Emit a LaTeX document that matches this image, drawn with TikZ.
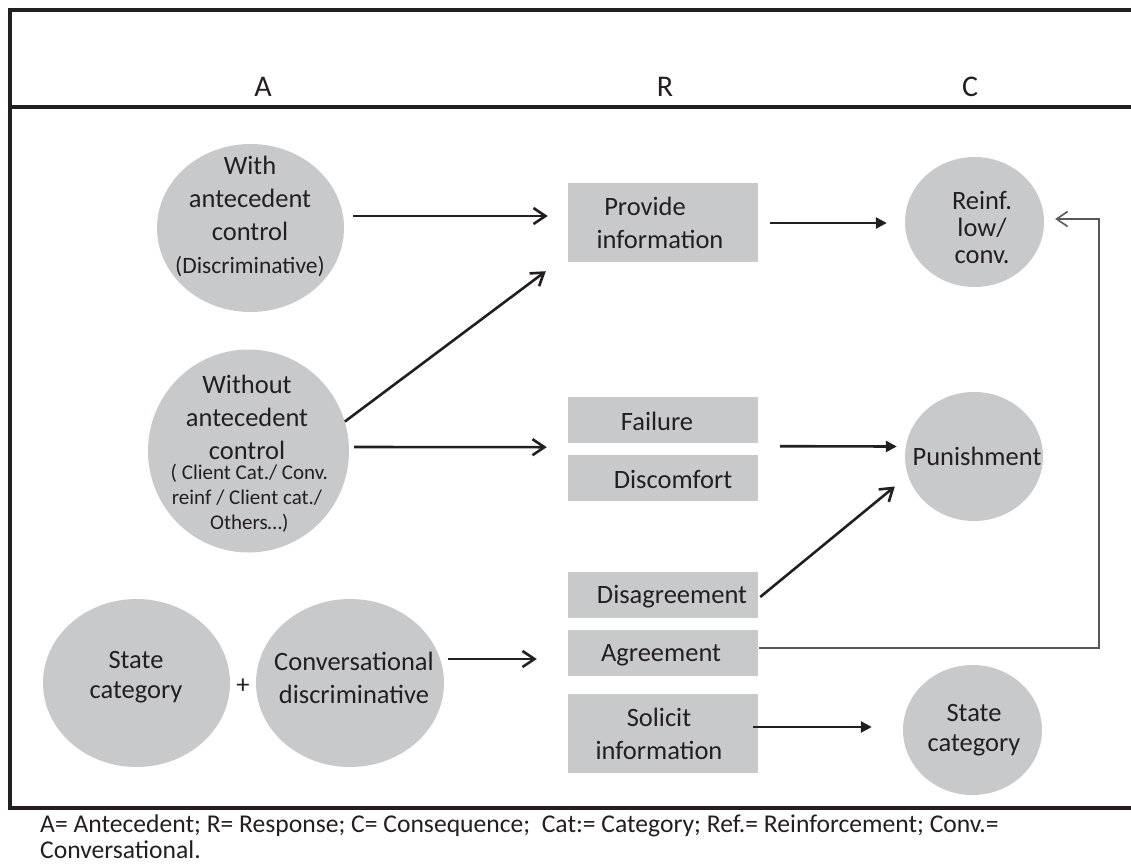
\documentclass[tikz,border=0pt]{standalone}
\usepackage{fontspec}
\setmainfont{Carlito}
\usetikzlibrary{arrows.meta,shapes.geometric,calc}
\definecolor{ink}{HTML}{231F20}
\definecolor{shade}{HTML}{C8C9CB}
\definecolor{wire}{HTML}{58585A}
% smaller lines inside the antecedent circles
\newcommand\wsmall{\fontsize{21}{25}\selectfont}

\begin{document}
\begin{tikzpicture}[x=1pt,y=-1pt,
  every node/.style={text=ink},
  disc/.style={ellipse, fill=shade, inner sep=0pt},
  bar/.style={rectangle, fill=shade, inner sep=0pt, minimum width=190pt},
  txt/.style={align=center, inner sep=0pt, font=\fontsize{26.5}{33}\selectfont},
  head/.style={inner sep=0pt, font=\fontsize{30}{36}\selectfont},
  frame/.style={draw=ink, line width=4pt},
  barb/.style={draw=ink, line width=2.6pt, -{Straight Barb[length=12pt,width=16pt]}},
  tri/.style={draw=ink, line width=2.6pt, -{Triangle[length=11pt,width=11pt]}},
  back/.style={draw=wire, line width=1.6pt, -{Straight Barb[length=11pt,width=15pt]}},
]
\useasboundingbox (0,0) rectangle (1131,865);

% table frame and column headings
\draw[frame] (1131,10) -- (10,10) -- (10,808) -- (1131,808);
\draw[frame] (10,107) -- (1131,107);
\node[head] (hA) at (263,87) {A};
\node[head] (hR) at (665,87) {R};
\node[head] (hC) at (970,87) {C};

% antecedents
\node[disc, minimum width=187pt, minimum height=168pt] (with) at (250.5,228) {};
\node[txt] (with-t) at (250,216) {With\\antecedent\\control\\\fontsize{23.5}{33}\selectfont(Discriminative)};
\node[disc, minimum width=201pt, minimum height=203pt] (without) at (248.5,451) {};
\node[txt] (without-t) at (247,453.5) {Without\\antecedent\\control\\[-13pt]\wsmall\ ( Client Cat./ Conv.\\[-8pt]\wsmall reinf / Client cat./\\[-8pt]\wsmall\ Others…)};
\node[disc, minimum width=187pt, minimum height=168pt] (statel) at (136.5,683) {};
\node[txt, font=\fontsize{26.5}{30}\selectfont] (statel-t) at (136,677) {State\\category};
\node[disc, minimum width=188pt, minimum height=168pt] (conv) at (350,683) {};
\node[txt] (conv-t) at (354,677.5) {Conversational\\discriminative};
\node[txt] (plus) at (243,686) {+};

% responses
\node[bar, minimum height=79pt] (provide) at (663,222.5) {};
\node[txt] (provide-t) at (660,223) {Provide\kern30pt\\information};
\node[bar, minimum height=46pt] (failure) at (663,420) {};
\node[txt] (failure-t) at (657,421) {Failure};
\node[bar, minimum height=46pt] (discomfort) at (663,478) {};
\node[txt] (discomfort-t) at (673,479) {Discomfort};
\node[bar, minimum height=46pt] (disagree) at (663,595) {};
\node[txt] (disagree-t) at (672,597) {Disagreement};
\node[bar, minimum height=46pt] (agree) at (663,653) {};
\node[txt] (agree-t) at (661,655) {Agreement};
\node[bar, minimum height=79pt] (solicit) at (663,733.5) {};
\node[txt] (solicit-t) at (659,734) {Solicit\\information};

% consequences
\node[disc, minimum width=139pt, minimum height=130pt] (reinf) at (974.5,222) {};
\node[txt, font=\fontsize{26.5}{27}\selectfont] (reinf-t) at (982,227) {Reinf.\\low/\\conv.};
\node[disc, minimum width=138pt, minimum height=129pt] (punish) at (974,456.5) {};
\node[txt] (punish-t) at (977,456) {Punishment};
\node[disc, minimum width=139pt, minimum height=130pt] (stater) at (972.5,730) {};
\node[txt, font=\fontsize{26.5}{30}\selectfont] (stater-t) at (974,730) {State\\category};

% connectors
\draw[barb] ([shift={(9,-12)}]with.east) -- ([shift={(-20,-6.5)}]provide.west);
\draw[barb] (without.17) -- ([shift={(-22,9)}]provide.south west);
\draw[barb] ([shift={(5,-4)}]without.east) -- ([shift={(-21,4)}]failure.south west);
\draw[barb] ([shift={(4,-24)}]conv.east) -- ([shift={(-31,6)}]agree.west);
\draw[tri] ([shift={(12,0.5)}]provide.east) -- ([shift={(-18,1)}]reinf.west);
\draw[tri] ([shift={(22,3)}]failure.south east) -- ([shift={(-8,-10)}]punish.west);
\draw[barb] ([shift={(2,2)}]disagree.east) -- ([shift={(-10,30)}]punish.west);
\draw[tri] ([shift={(-5,-6.5)}]solicit.east) -- ([shift={(-31,-3)}]stater.west);
\draw[back] ([shift={(1,-5)}]agree.east) -| ([shift={(54.5,-3)}]reinf.east) -- ([shift={(11,-3)}]reinf.east);

% key to abbreviations
\node[txt, align=left, anchor=north west, font=\fontsize{25.6}{26}\selectfont] (legend) at (40,815)
  {A= Antecedent; R= Response; C= Consequence;\ \ Cat:= Category; Ref.= Reinforcement; Conv.=\\Conversational.};
\end{tikzpicture}
\end{document}
